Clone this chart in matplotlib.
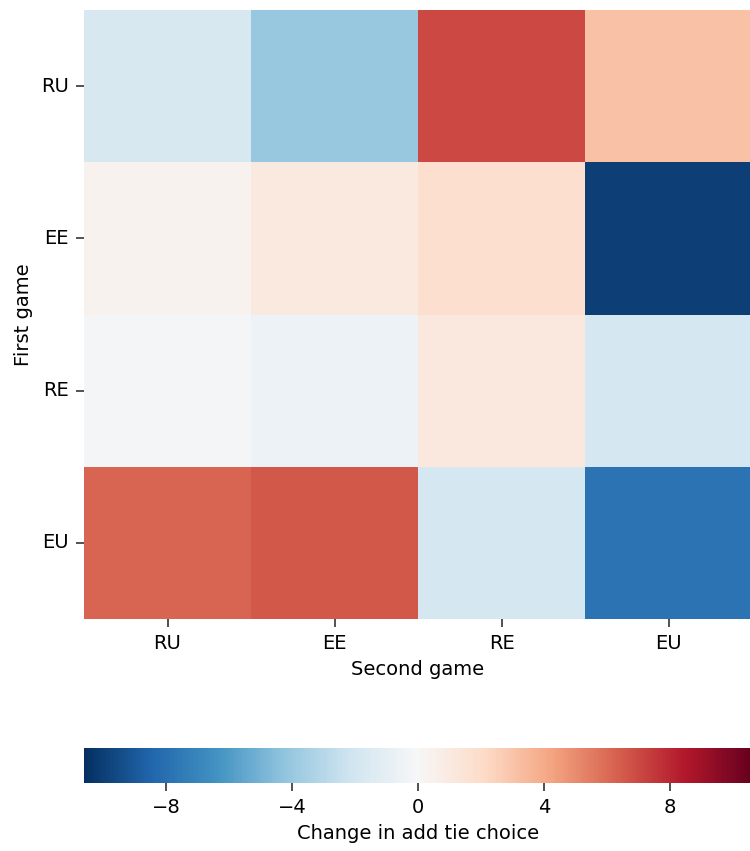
import numpy as np
import pandas as pd
import matplotlib
matplotlib.use('Agg')
import matplotlib.pyplot as plt
import seaborn as sns

# jogos
jogos = ['RU', 'EE', 'RE', 'EU']
# linhas = primeiro jogo, colunas = segundo jogo
linha_RU = [-1.8, -4.0, 7.0, 3.1]
linha_EE = [0.4, 1.0, 1.8, -10.0]
linha_RE = [-0.2, -0.6, 1.1, -1.9]
linha_EU = [6.2, 6.6, -1.9, -7.8]

df = pd.DataFrame([linha_RU, linha_EE, linha_RE, linha_EU], index=jogos, columns=jogos)

fs = 14
fig = plt.figure(figsize=(7.5, 8.51), dpi=100)
ax = fig.add_axes([84/750, 1-619/851, 668/750, 609/851])
cax = fig.add_axes([84/750, 1-783/851, 668/750, 35/851])

sns.heatmap(df, ax=ax, cbar_ax=cax, cmap='RdBu_r', vmin=-10.6, vmax=10.6,
            cbar_kws={'orientation': 'horizontal', 'ticks': [-8, -4, 0, 4, 8]})
ax.set_xlabel('Second game', fontsize=fs, labelpad=5)
ax.set_ylabel('First game', fontsize=fs, labelpad=6)
ax.tick_params(labelsize=fs, length=6, width=1.2, pad=5, color='#333333')
plt.setp(ax.get_yticklabels(), rotation=0)
cax.tick_params(labelsize=fs, length=6, width=1.2, pad=5, color='#333333')
cax.set_xlabel('Change in add tie choice', fontsize=fs, labelpad=5)

fig.savefig('out.png', dpi=100)
